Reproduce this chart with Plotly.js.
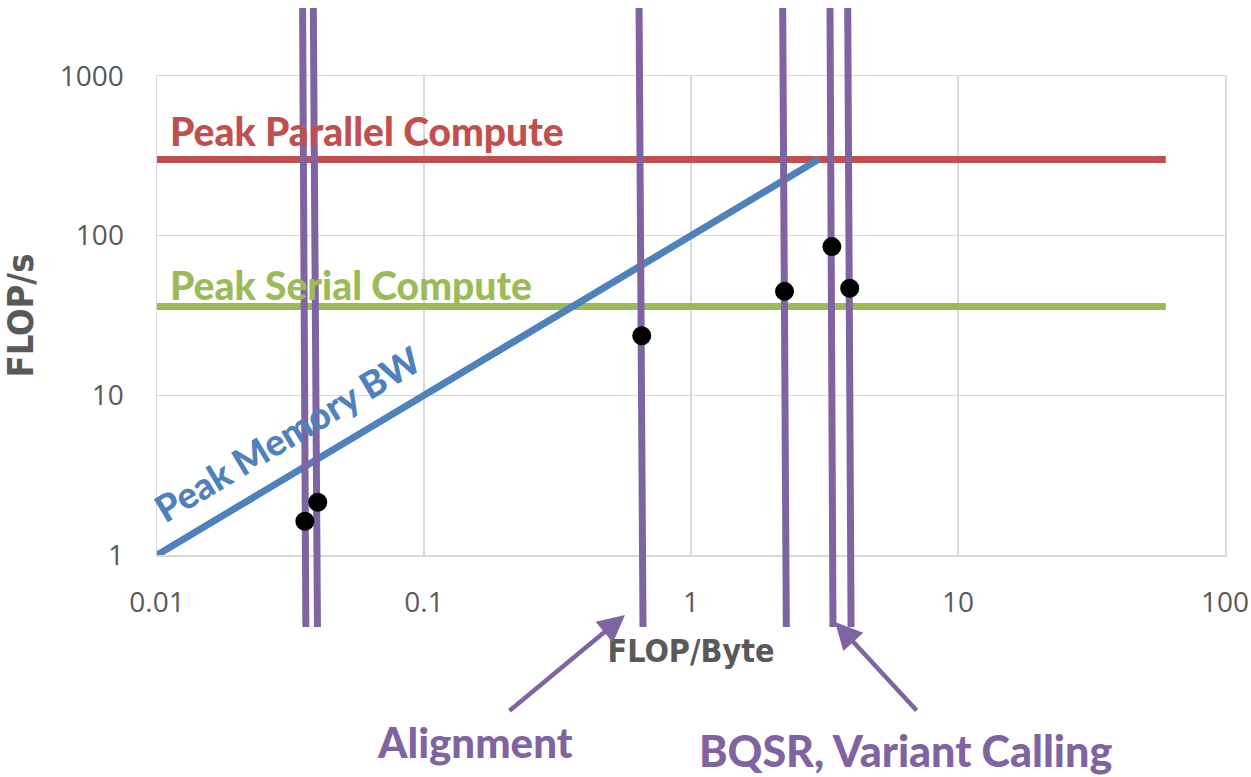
<!DOCTYPE html>
<html>
<head>
<meta charset="utf-8">
<script src="https://cdn.plot.ly/plotly-3.0.1.min.js"></script>
<style>html,body{margin:0;padding:0;background:#fff;} #chart{width:1251px;height:777px;}</style>
</head>
<body>
<div id="chart"></div>
<script>
// ---- data ----
var bwX = [0.01, 3];            // Peak Memory BW line (FLOP/Byte)
var bwY = [1, 300];             // FLOP/s
var parX = [0.01, 60];          // Peak Parallel Compute
var parY = [300, 300];
var serX = [0.01, 60];          // Peak Serial Compute
var serY = [36, 36];
// workloads: measured points
var ptX = [0.0358, 0.0400, 0.654, 2.24, 3.37, 3.93];
var ptY = [1.61, 2.12, 23.4, 44.4, 84.7, 46.4];
// vertical marker lines (top x, bottom x) for each workload
var vTopX = [0.0351, 0.0385, 0.639, 2.205, 3.316, 3.863];
var vBotX = [0.0361, 0.0399, 0.661, 2.275, 3.402, 3.976];
var xTickVals = [0.01, 0.1, 1, 10, 100];
var xTickText = ['0.01', '0.1', '1', '10', '100'];
var yTickVals = [1, 10, 100, 1000];
var yTickText = ['1', '10', '100', '1000'];

var PURPLE = '#8064A2', RED = '#C0504D', GREEN = '#9BBB59', BLUE = '#4F81BD', GRAY = '#595959';
var tickFont = {family: 'Open Sans, sans-serif', size: 28, color: GRAY};
var condFont = 'DejaVu Sans Condensed, sans-serif';
var labelFont = 'Lato, sans-serif';

// y2 range aligned with main y scale but covering taller domain
var Y2MIN = 0.35, Y2MAX = 2650;

var traces = [
  {x: parX, y: parY, mode: 'lines', line: {color: RED, width: 7}, xaxis: 'x', yaxis: 'y', hoverinfo: 'skip'},
  {x: serX, y: serY, mode: 'lines', line: {color: GREEN, width: 7}, xaxis: 'x', yaxis: 'y', hoverinfo: 'skip'},
  {x: bwX, y: bwY, mode: 'lines', line: {color: BLUE, width: 7}, xaxis: 'x', yaxis: 'y', hoverinfo: 'skip'}
];
for (var i = 0; i < vTopX.length; i++) {
  traces.push({x: [vTopX[i], vBotX[i]], y: [Y2MAX, Y2MIN], mode: 'lines',
    line: {color: PURPLE, width: 7}, xaxis: 'x2', yaxis: 'y2', hoverinfo: 'skip'});
}
traces.push({x: ptX, y: ptY, mode: 'markers', marker: {color: '#000', size: 19},
  xaxis: 'x2', yaxis: 'y2'});

// paper: x 157..1225, y 8..627
var T = 8, B = 627, L = 157, R = 1225;
function px(p) { return (p - L) / (R - L); }
function py(p) { return (B - p) / (B - T); }

var layout = {
  width: 1251, height: 777,
  margin: {l: L, r: 1251 - R, t: T, b: 777 - B},
  paper_bgcolor: '#fff', plot_bgcolor: 'rgba(0,0,0,0)',
  showlegend: false,
  xaxis: {type: 'log', range: [-2, 2], domain: [0, 1], anchor: 'y',
    tickvals: xTickVals, ticktext: xTickText, tickfont: tickFont,
    showgrid: true, gridcolor: '#D9D9D9', gridwidth: 1.5,
    showline: true, mirror: true, linecolor: '#D9D9D9', linewidth: 1.5,
    zeroline: false, ticks: '', ticklabelstandoff: 22,
    title: {text: 'FLOP/Byte', font: {family: condFont, size: 32, color: GRAY, weight: 'bold'}, standoff: 20}},
  yaxis: {type: 'log', range: [0, 3], domain: [py(555), py(76)], anchor: 'x',
    tickvals: yTickVals, ticktext: yTickText, tickfont: tickFont,
    showgrid: true, gridcolor: '#D9D9D9', gridwidth: 1.5,
    showline: true, mirror: true, linecolor: '#D9D9D9', linewidth: 1.5,
    zeroline: false, ticks: '', ticklabelstandoff: 26,
    title: {text: 'FLOP/s', font: {family: condFont, size: 36, color: GRAY, weight: 'bold'}, standoff: 24}},
  xaxis2: {type: 'log', range: [-2, 2], domain: [0, 1], anchor: 'y2', visible: false, showgrid: false},
  yaxis2: {type: 'log', range: [Math.log10(Y2MIN), Math.log10(Y2MAX)], domain: [0, 1], anchor: 'x2', visible: false, showgrid: false},
  annotations: [
    {text: 'Peak Parallel Compute', xref: 'paper', yref: 'paper', x: px(168), y: py(131), xanchor: 'left', yanchor: 'middle',
      showarrow: false, font: {family: labelFont, size: 39, color: RED, weight: 900}},
    {text: 'Peak Serial Compute', xref: 'paper', yref: 'paper', x: px(168), y: py(285), xanchor: 'left', yanchor: 'middle',
      showarrow: false, font: {family: labelFont, size: 39, color: GREEN, weight: 900}},
    {text: 'Peak Memory BW', xref: 'paper', yref: 'paper', x: px(287), y: py(433), xanchor: 'center', yanchor: 'middle',
      textangle: -31, showarrow: false, font: {family: labelFont, size: 37, color: BLUE, weight: 900}},
    {text: 'Alignment', xref: 'paper', yref: 'paper', x: px(475), y: py(742), xanchor: 'center', yanchor: 'middle',
      showarrow: false, font: {family: labelFont, size: 42, color: PURPLE, weight: 900}},
    {text: 'BQSR, Variant Calling', xref: 'paper', yref: 'paper', x: px(905), y: py(750), xanchor: 'center', yanchor: 'middle',
      showarrow: false, font: {family: labelFont, size: 43, color: PURPLE, weight: 900}},
    {text: '', xref: 'paper', yref: 'paper', x: px(625), y: py(615), showarrow: true, arrowhead: 2, arrowsize: 1.2,
      arrowwidth: 4.5, arrowcolor: PURPLE, ax: 508 - 625, ay: 712 - 615, standoff: 0, startstandoff: 0},
    {text: '', xref: 'paper', yref: 'paper', x: px(835), y: py(622), showarrow: true, arrowhead: 2, arrowsize: 1.2,
      arrowwidth: 4.5, arrowcolor: PURPLE, ax: 918 - 835, ay: 712 - 622, standoff: 0, startstandoff: 0}
  ]
};

Plotly.newPlot('chart', traces, layout, {displayModeBar: false, staticPlot: true});
</script>
</body>
</html>
